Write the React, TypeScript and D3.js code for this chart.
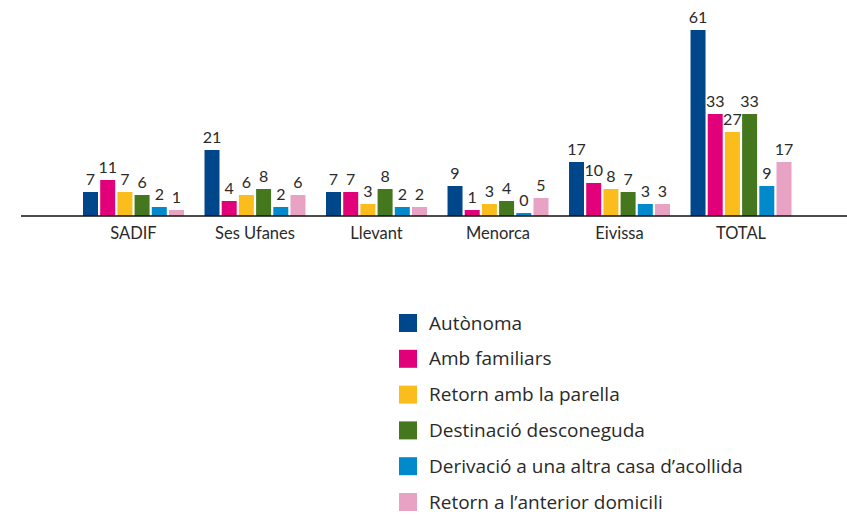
import React from "react";
import * as d3 from "d3";

const categories = ["SADIF", "Ses Ufanes", "Llevant", "Menorca", "Eivissa", "TOTAL"];
const seriesNames = [
  "Autònoma",
  "Amb familiars",
  "Retorn amb la parella",
  "Destinació desconeguda",
  "Derivació a una altra casa d’acollida",
  "Retorn a l’anterior domicili",
];
const autonoma = [7, 21, 7, 9, 17, 61];
const ambFamiliars = [11, 4, 7, 1, 10, 33];
const retornParella = [7, 6, 3, 3, 8, 27];
const destinacio = [6, 8, 8, 4, 7, 33];
const derivacio = [2, 2, 2, 0, 3, 9];
const retornDomicili = [1, 6, 2, 5, 3, 17];
const seriesValues = [autonoma, ambFamiliars, retornParella, destinacio, derivacio, retornDomicili];
const colors = ["#00468a", "#e2007a", "#fbbd1b", "#45781e", "#008acb", "#e8a2c4"];

const W = 847;
const H = 515;
const FONT = "Lato, 'Open Sans', sans-serif";
const LEGEND_FONT = "'Open Sans', Lato, sans-serif";
const TEXT = "#2a2a2a";
const noLig = { fontVariantLigatures: "none" as const };

export default function App() {
  const baseline = 216;
  const x0 = d3.scaleBand<string>().domain(categories).range([83, 791.5]).paddingInner(0.169).paddingOuter(0);
  const x1 = d3
    .scaleBand<string>()
    .domain(seriesNames)
    .range([0, x0.bandwidth()])
    .paddingInner(0.128)
    .paddingOuter(0);
  const y = d3.scaleLinear().domain([0, 61]).range([baseline - 3, 30]);

  const legendY = d3.scaleLinear().domain([0, seriesNames.length - 1]).range([323, 502]);

  return (
    <svg width={W} height={H} style={{ position: "absolute", left: 0, top: 0, background: "#fff" }}>
      <rect x={0} y={0} width={W} height={H} fill="#fff" />
      {categories.map((c, ci) => (
        <g key={c} transform={`translate(${x0(c)},0)`}>
          {seriesNames.map((s, si) => {
            const v = seriesValues[si][ci];
            const top = y(v);
            const bx = x1(s)!;
            return (
              <g key={s}>
                <rect x={bx} y={top} width={x1.bandwidth()} height={baseline - top} fill={colors[si]} />
                <text
                  x={bx + x1.bandwidth() / 2}
                  y={top - 7.5}
                  textAnchor="middle"
                  fontFamily={FONT}
                  fontSize={16}
                  fill={TEXT}
                >
                  {v}
                </text>
              </g>
            );
          })}
          <text
            x={x0.bandwidth() / 2}
            y={238.5}
            textAnchor="middle"
            fontFamily={FONT}
            fontSize={16.5}
            fill={TEXT}
            style={noLig}
          >
            {c}
          </text>
        </g>
      ))}
      <line x1={21} x2={847} y1={baseline} y2={baseline} stroke="#111" strokeWidth={1.6} />
      {seriesNames.map((s, i) => (
        <g key={s} transform={`translate(399,${legendY(i)})`}>
          <rect x={0} y={-9} width={18} height={18} fill={colors[i]} />
          <text x={30} y={6.5} fontFamily={LEGEND_FONT} fontSize={19} fill={TEXT} style={noLig}>
            {s}
          </text>
        </g>
      ))}
    </svg>
  );
}
